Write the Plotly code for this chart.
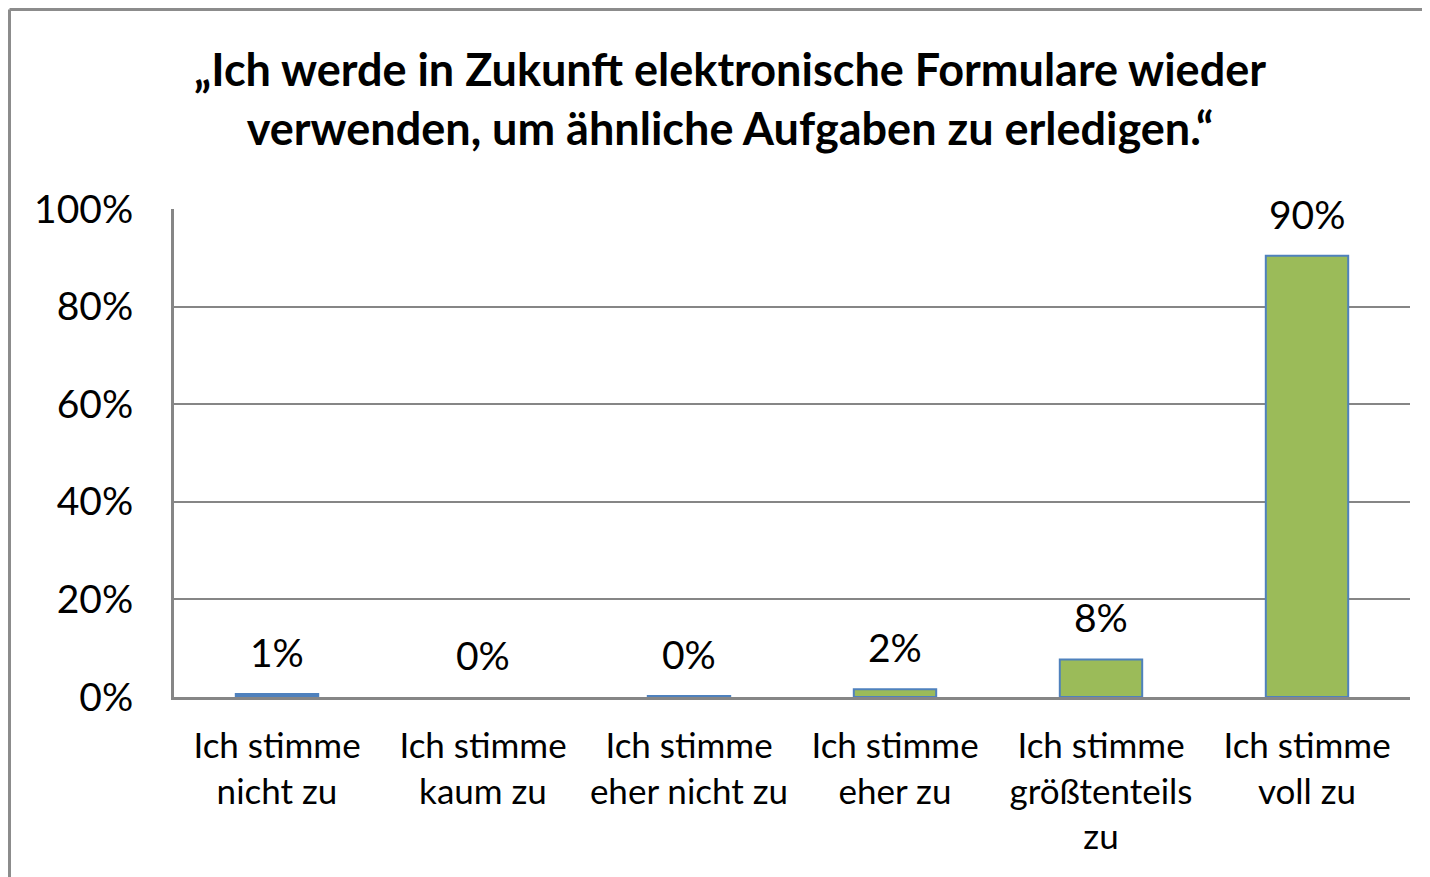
import plotly.graph_objects as go

categories = ["Ich stimme<br>nicht zu", "Ich stimme<br>kaum zu", "Ich stimme<br>eher nicht zu",
              "Ich stimme<br>eher zu", "Ich stimme<br>größtenteils<br>zu", "Ich stimme<br>voll zu"]
values = [0.6, 0.0, 0.2, 1.6, 7.7, 90.4]
labels = ["1%", "0%", "0%", "2%", "8%", "90%"]
bar_colors = ["#4F81BD", "#4F81BD", "#4F81BD", "#9BBB59", "#9BBB59", "#9BBB59"]
title_text = "„Ich werde in Zukunft elektronische Formulare wieder<br>verwenden, um ähnliche Aufgaben zu erledigen.“"

FONT = "Lato"
# page body has an 8px margin; figure coordinates are page coordinates minus 8
W, H = 1430, 877
L, T = 166, 201
R = W - (1410 - 8)
B = H - (697 - 8)
pw, ph = W - L - R, H - T - B

outline_widths = [0 if v == 0 else 2 for v in values]

fig = go.Figure(go.Bar(
    x=categories, y=values,
    marker=dict(color=bar_colors, line=dict(color="#4F81BD", width=outline_widths)),
    width=0.4, cliponaxis=False,
))

for c, v, t in zip(categories, values, labels):
    fig.add_annotation(x=c, y=v, text=t, showarrow=False, yanchor="middle", yshift=42,
                       font=dict(family=FONT, size=39, color="#000000"))


def px_x(x):
    return (x - L) / pw


def px_y(y):
    return (H - B - y) / ph


shapes = [
    dict(type="line", xref="paper", yref="paper", x0=px_x(1.5), x1=px_x(1.5), y0=px_y(1.5), y1=px_y(900),
         line=dict(color="#8c8c8c", width=3)),
    dict(type="line", xref="paper", yref="paper", x0=px_x(1.5), x1=px_x(1440), y0=px_y(1.5), y1=px_y(1.5),
         line=dict(color="#8c8c8c", width=3)),
]

fig.update_layout(
    width=W, height=H,
    margin=dict(l=L, r=R, t=T, b=B),
    paper_bgcolor="white", plot_bgcolor="white",
    showlegend=False,
    title=dict(text=title_text, x=722 / W, xanchor="center", y=1 - 78 / H, yanchor="middle",
               font=dict(family=FONT, size=45, color="#000000", weight="bold")),
    font=dict(family=FONT, color="#000000"),
    shapes=shapes,
    bargap=0.6,
)
fig.update_xaxes(showline=True, linecolor="#868686", linewidth=3, ticks="",
                 tickfont=dict(family=FONT, size=35, color="#000000"), showgrid=False,
                 ticklabelstandoff=16)
fig.update_yaxes(range=[0, 100], dtick=20, ticksuffix="%", showline=True, linecolor="#868686",
                 linewidth=3, gridcolor="#868686", gridwidth=1.5, ticks="", zeroline=False,
                 tickfont=dict(family=FONT, size=39, color="#000000"), ticklabelstandoff=30)

fig.write_html("out.html")
